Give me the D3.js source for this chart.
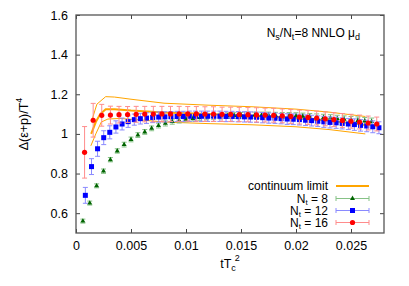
<!DOCTYPE html>
<html>
  <head>
    <meta charset="utf-8">
    <script src="https://d3js.org/d3.v7.min.js"></script>
    <style>
    body { margin: 0; background: #fff; }
    svg { display: block; font-family: "Liberation Sans", Arial, sans-serif; }
    .band { fill: none; stroke: #ffa500; }
    </style>
  </head>
  <body>
    <script>
      let x8 = [0.000625,0.00125,0.001875,0.0025,0.003125,0.00375,0.004375,0.005,0.005625,0.00625,0.006875,0.0075,0.008125,0.00875,0.009375,0.01,0.010625,0.01125,0.011875,0.0125,0.013125,0.01375,0.014375,0.015,0.015625,0.01625,0.016875,0.0175,0.018125,0.01875,0.019375,0.02,0.020625,0.02125,0.021875,0.0225,0.023125,0.02375,0.024375,0.025,0.025625,0.02625,0.026875]
      let y8 = [0.560,0.651,0.738,0.812,0.870,0.914,0.946,0.972,0.994,1.010,1.028,1.042,1.053,1.062,1.068,1.074,1.078,1.082,1.085,1.088,1.090,1.092,1.093,1.094,1.095,1.095,1.095,1.095,1.094,1.093,1.092,1.091,1.089,1.087,1.085,1.083,1.080,1.077,1.074,1.071,1.068,1.065,1.062]
      let e8 = [0.010,0.010,0.010,0.011,0.011,0.011,0.012,0.012,0.012,0.012,0.012,0.012,0.013,0.013,0.013,0.013,0.013,0.013,0.014,0.014,0.014,0.014,0.014,0.014,0.015,0.015,0.015,0.015,0.015,0.015,0.016,0.016,0.016,0.016,0.016,0.016,0.017,0.017,0.017,0.017,0.018,0.018,0.018]

      let x12 = [0.00085,0.00141,0.00196,0.00252,0.00307,0.00363,0.00419,0.00474,0.00530,0.00585,0.00641,0.00697,0.00752,0.00808,0.00863,0.00919,0.00975,0.01030,0.01086,0.01141,0.01197,0.01253,0.01308,0.01364,0.01419,0.01475,0.01531,0.01586,0.01642,0.01697,0.01753,0.01809,0.01864,0.01920,0.01975,0.02031,0.02087,0.02142,0.02198,0.02253,0.02309,0.02365,0.02420,0.02476,0.02531,0.02587,0.02643,0.02698,0.02754]
      let y12 = [0.690,0.835,0.925,0.981,1.008,1.035,1.050,1.062,1.072,1.077,1.080,1.083,1.085,1.086,1.087,1.088,1.088,1.089,1.089,1.089,1.089,1.089,1.089,1.088,1.088,1.087,1.086,1.085,1.084,1.082,1.080,1.079,1.077,1.075,1.074,1.072,1.069,1.067,1.064,1.061,1.058,1.056,1.053,1.050,1.047,1.043,1.040,1.036,1.031]
      let e12 = [0.040,0.040,0.038,0.035,0.033,0.031,0.030,0.029,0.028,0.027,0.027,0.026,0.026,0.026,0.026,0.026,0.026,0.026,0.026,0.026,0.026,0.026,0.026,0.026,0.026,0.026,0.026,0.026,0.026,0.026,0.026,0.026,0.026,0.027,0.027,0.027,0.027,0.027,0.027,0.028,0.028,0.028,0.028,0.028,0.029,0.029,0.029,0.030,0.030]

      let x16 = [0.00078,0.00156,0.00234,0.00313,0.00391,0.00469,0.00547,0.00625,0.00703,0.00781,0.00859,0.00938,0.01016,0.01094,0.01172,0.01250,0.01328,0.01406,0.01484,0.01563,0.01641,0.01719,0.01797,0.01875,0.01953,0.02031,0.02109,0.02188,0.02266,0.02344,0.02422,0.02500,0.02578,0.02656,0.02734]
      let y16 = [0.907,1.069,1.094,1.095,1.097,1.098,1.099,1.100,1.100,1.101,1.101,1.101,1.101,1.101,1.100,1.100,1.099,1.099,1.098,1.097,1.096,1.095,1.094,1.091,1.088,1.085,1.083,1.080,1.076,1.072,1.068,1.064,1.060,1.055,1.050]
      let e16 = [0.130,0.085,0.055,0.045,0.042,0.040,0.040,0.039,0.039,0.038,0.038,0.038,0.037,0.037,0.037,0.037,0.036,0.036,0.036,0.036,0.036,0.035,0.035,0.035,0.035,0.035,0.035,0.035,0.035,0.035,0.035,0.035,0.035,0.035,0.035]

      // continuum limit: central value and upper / lower edge
      let xc = [0.00138,0.0018,0.0022,0.0027,0.0035,0.005,0.008,0.012,0.016,0.020,0.023,0.0263]
      let yc = [1.000,1.060,1.100,1.125,1.125,1.118,1.108,1.100,1.092,1.080,1.068,1.045]
      let xu = [0.00145,0.0019,0.0027,0.0035,0.005,0.008,0.012,0.016,0.020,0.023,0.0263]
      let yu = [1.070,1.150,1.188,1.186,1.175,1.155,1.145,1.137,1.125,1.110,1.088]
      let xl = [0.00135,0.0018,0.0023,0.0029,0.004,0.006,0.008,0.012,0.016,0.020,0.023,0.0263]
      let yl = [0.940,1.000,1.060,1.075,1.078,1.070,1.060,1.052,1.046,1.036,1.022,1.000]

      let xTicks = [0, 0.005, 0.01, 0.015, 0.02, 0.025]
      let yTicks = [0.6, 0.8, 1, 1.2, 1.4, 1.6]

      let w = 409
      let h = 286
      let svg = d3.select('body').append('svg')
                  .attr('width', w)
                  .attr('height', h)

      let xScale = d3.scaleLinear().domain([0, 0.028]).range([76, 384])
      let yScale = d3.scaleLinear().domain([0.5, 1.6]).range([233, 15])

      let fs = '12.5px'

      // axes with inward ticks, mirrored on top / right
      svg.append('g')
          .attr('transform', 'translate(0,233)')
          .call(d3.axisBottom(xScale).tickValues(xTicks).tickSize(-4).tickPadding(8.5)
                .tickFormat(d => String(d)))
      svg.append('g')
          .attr('transform', 'translate(76,0)')
          .call(d3.axisLeft(yScale).tickValues(yTicks).tickSize(-4).tickPadding(8)
                .tickFormat(d => String(d)))
      svg.append('g')
          .attr('transform', 'translate(0,15)')
          .call(d3.axisTop(xScale).tickValues(xTicks).tickSize(-4).tickFormat(''))
      svg.append('g')
          .attr('transform', 'translate(384,0)')
          .call(d3.axisRight(yScale).tickValues(yTicks).tickSize(-4).tickFormat(''))
      svg.selectAll('.domain').remove()
      svg.selectAll('.tick line').attr('stroke', '#444')
      svg.selectAll('.tick text').style('font-size', fs).attr('fill', '#000')
          .style('font-family', '"Liberation Sans", Arial, sans-serif')

      svg.append('rect')
          .attr('x', 76).attr('y', 15)
          .attr('width', 308).attr('height', 218)
          .attr('fill', 'none')
          .attr('stroke', '#555')
          .attr('stroke-width', 1.3)

      // continuum band
      let line = d3.line().x(d => xScale(d[0])).y(d => yScale(d[1]))
      svg.append('path').attr('class', 'band').attr('stroke-width', 1)
          .attr('d', line(d3.zip(xu, yu)))
      svg.append('path').attr('class', 'band').attr('stroke-width', 1)
          .attr('d', line(d3.zip(xl, yl)))
      svg.append('path').attr('class', 'band').attr('stroke-width', 2)
          .attr('d', line(d3.zip(xc, yc)))

      let series = [
        {x: x8, y: y8, e: e8, mark: 'tri', col: '#006400', err: '#86c286'},
        {x: x12, y: y12, e: e12, mark: 'sq', col: '#0000ff', err: '#8a8aff'},
        {x: x16, y: y16, e: e16, mark: 'dot', col: '#ff0000', err: '#ff8c8c'}
      ]

      function drawMark(g, s, cx, cy) {
        if (s.mark === 'tri') {
          g.append('path')
            .attr('d', d3.symbol(d3.symbolTriangle, 11)())
            .attr('transform', `translate(${cx},${cy})`)
            .attr('fill', s.col)
        } else if (s.mark === 'sq') {
          g.append('rect').attr('x', cx - 2.5).attr('y', cy - 2.5)
            .attr('width', 5).attr('height', 5).attr('fill', s.col)
        } else {
          g.append('circle').attr('cx', cx).attr('cy', cy).attr('r', 2.6).attr('fill', s.col)
        }
      }

      series.forEach(s => {
        let g = svg.append('g')
        s.x.forEach((xv, i) => {
          let cx = xScale(xv)
          let y0 = yScale(s.y[i] - s.e[i])
          let y1 = yScale(s.y[i] + s.e[i])
          g.append('line').attr('x1', cx).attr('x2', cx).attr('y1', y0).attr('y2', y1)
            .attr('stroke', s.err).attr('stroke-width', 1)
          g.append('line').attr('x1', cx - 2.5).attr('x2', cx + 2.5).attr('y1', y0).attr('y2', y0)
            .attr('stroke', s.err).attr('stroke-width', 1)
          g.append('line').attr('x1', cx - 2.5).attr('x2', cx + 2.5).attr('y1', y1).attr('y2', y1)
            .attr('stroke', s.err).attr('stroke-width', 1)
        })
        s.x.forEach((xv, i) => drawMark(g, s, xScale(xv), yScale(s.y[i])))
      })

      // legend
      let legLabels = [['continuum limit', null], ['N', 't', ' = 8'], ['N', 't', ' = 12'], ['N', 't', ' = 16']]
      let legY = [186, 198.5, 210.5, 222.5]
      legLabels.forEach((lab, i) => {
        let t = svg.append('text')
            .attr('x', 328).attr('y', legY[i] + 4)
            .attr('text-anchor', 'end')
            .style('font-size', '12px')
        if (lab[1] === null) {
          t.text(lab[0])
        } else {
          t.append('tspan').text(lab[0])
          t.append('tspan').text(lab[1]).style('font-size', '8px').attr('dy', 2.5)
          t.append('tspan').text(lab[2]).attr('dy', -2.5)
        }
        if (i === 0) {
          svg.append('line').attr('x1', 336).attr('x2', 369).attr('y1', legY[i]).attr('y2', legY[i])
            .attr('stroke', '#ffa500').attr('stroke-width', 2)
        } else {
          let s = series[i - 1]
          let g = svg.append('g')
          g.append('line').attr('x1', 336).attr('x2', 369).attr('y1', legY[i]).attr('y2', legY[i])
            .attr('stroke', s.err)
          ;[336, 369].forEach(xx => g.append('line').attr('x1', xx).attr('x2', xx)
            .attr('y1', legY[i] - 2.5).attr('y2', legY[i] + 2.5).attr('stroke', s.err))
          drawMark(g, s, 352.5, legY[i])
        }
      })

      // annotation
      let ann = svg.append('text').attr('x', 360).attr('y', 37)
          .attr('text-anchor', 'end').style('font-size', '12px')
      ann.append('tspan').text('N')
      ann.append('tspan').text('s').style('font-size', '9px').attr('dy', 3)
      ann.append('tspan').text('/N').attr('dy', -3)
      ann.append('tspan').text('t').style('font-size', '9px').attr('dy', 3)
      ann.append('tspan').text('=8 NNLO μ').attr('dy', -3)
      ann.append('tspan').text('d').style('font-size', '9px').attr('dy', 3)

      // axis titles
      let xt = svg.append('text').attr('x', 230).attr('y', 268)
          .attr('text-anchor', 'middle').style('font-size', fs)
      xt.append('tspan').text('tT')
      xt.append('tspan').text('c').style('font-size', '9px').attr('dy', 3)
      xt.append('tspan').text('2').style('font-size', '9px').attr('dy', -10).attr('dx', -1)

      let yt = svg.append('text')
          .attr('transform', 'translate(28,124) rotate(-90)')
          .attr('text-anchor', 'middle').style('font-size', fs)
      yt.append('tspan').text('Δ(ε+p)/T')
      yt.append('tspan').text('4').style('font-size', '9px').attr('dy', -6)
    </script>
  </body>
</html>
